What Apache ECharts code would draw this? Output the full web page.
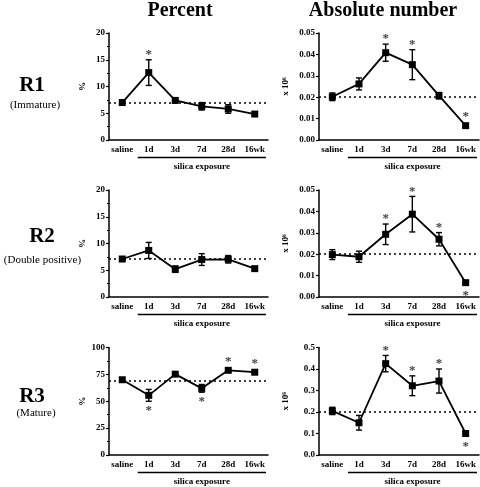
<!DOCTYPE html>
<html><head><meta charset="utf-8">
<script src="https://cdn.jsdelivr.net/npm/echarts@6/dist/echarts.min.js"></script>
<style>html,body{margin:0;padding:0;background:#fff}#c{width:480px;height:487px}</style>
</head><body><div id="c"></div>
<script>
// ---- data ----
var categories = ['saline','1d','3d','7d','28d','16wk'];

var r1Pct     = [7.0, 12.6, 7.4, 6.3, 5.8, 4.85];
var r1PctErr  = [0.2, 2.4, 0.4, 0.7, 0.8, 0.25];
var r1PctStar = [0, 1, 0, 0, 0, 0];
var r1PctBase = 7.0;

var r1Abs     = [0.0202, 0.0262, 0.0408, 0.0352, 0.0207, 0.0067];
var r1AbsErr  = [0.0018, 0.0028, 0.0040, 0.0070, 0.0015, 0.0007];
var r1AbsStar = [0, 0, 1, 1, 0, 1];
var r1AbsBase = 0.0202;

var r2Pct     = [7.1, 8.7, 5.2, 7.0, 7.05, 5.3];
var r2PctErr  = [0.3, 1.5, 0.6, 1.1, 0.7, 0.25];
var r2PctStar = [0, 0, 0, 0, 0, 0];
var r2PctBase = 7.1;

var r2Abs     = [0.0198, 0.0188, 0.0293, 0.0387, 0.0270, 0.0067];
var r2AbsErr  = [0.0023, 0.0026, 0.0048, 0.0083, 0.0031, 0.0005];
var r2AbsStar = [0, 0, 1, 1, 1, -1];
var r2AbsBase = 0.0195;

var r3Pct     = [70, 55.5, 75.2, 62, 78.8, 77];
var r3PctErr  = [0.8, 5.5, 0.8, 3.6, 1.2, 1.2];
var r3PctStar = [0, -1, 0, -1, 1, 1];
var r3PctBase = 69;

var r3Abs     = [0.205, 0.150, 0.425, 0.322, 0.344, 0.100];
var r3AbsErr  = [0.017, 0.034, 0.038, 0.046, 0.056, 0.010];
var r3AbsStar = [0, 0, 1, 1, 1, -1];
var r3AbsBase = 0.205;

var rowNames = ['R1','R2','R3'];
var rowSubs  = ['(Immature)','(Double positive)','(Mature)'];
var colTitles = ['Percent','Absolute number'];
var xGroupLabel = 'silica exposure';

var panels = [
  {v:r1Pct, e:r1PctErr, s:r1PctStar, b:r1PctBase, max:20,  step:5,    dec:0, minor:true,  name:'%'},
  {v:r1Abs, e:r1AbsErr, s:r1AbsStar, b:r1AbsBase, max:0.05,step:0.01, dec:2, minor:false, name:'x 10\u2076'},
  {v:r2Pct, e:r2PctErr, s:r2PctStar, b:r2PctBase, max:20,  step:5,    dec:0, minor:true,  name:'%'},
  {v:r2Abs, e:r2AbsErr, s:r2AbsStar, b:r2AbsBase, max:0.05,step:0.01, dec:2, minor:false, name:'x 10\u2076'},
  {v:r3Pct, e:r3PctErr, s:r3PctStar, b:r3PctBase, max:100, step:25,   dec:0, minor:true,  name:'%'},
  {v:r3Abs, e:r3AbsErr, s:r3AbsStar, b:r3AbsBase, max:0.5, step:0.1,  dec:1, minor:false, name:'x 10\u2076'}
];

// ---- layout ----
var FONT = '"Liberation Serif", "DejaVu Serif", serif';
var colLeft = [109, 319], colWidth = [159, 160];
var rowTop = [33, 190, 347.5], rowHeight = [107, 107, 107.5];

var grids = [], xAxes = [], yAxes = [], series = [], graphics = [];

panels.forEach(function(p, k){
  var r = Math.floor(k/2), c = k%2;
  grids.push({left: colLeft[c], top: rowTop[r], width: colWidth[c], height: rowHeight[r]});
  xAxes.push({
    type:'category', gridIndex:k, data:categories, boundaryGap:true,
    axisLine:{lineStyle:{color:'#000', width:1.5}},
    axisTick:{alignWithLabel:true, interval:0, length:4, lineStyle:{color:'#000', width:1.2}},
    axisLabel:{color:'#000', fontFamily:FONT, fontWeight:'bold', fontSize:9, margin:5, interval:0, hideOverlap:false},
    splitLine:{show:false}
  });
  yAxes.push({
    type:'value', gridIndex:k, min:0, max:p.max, interval:p.step,
    name:p.name, nameLocation:'middle', nameRotate:90, nameGap: c===0 ? 22 : 29,
    nameTextStyle:{color:'#000', fontFamily:FONT, fontWeight:'bold', fontSize:9},
    axisLine:{show:true, lineStyle:{color:'#000', width:1.5}},
    axisTick:{show:true, length:3, lineStyle:{color:'#000', width:1.2}},
    minorTick:{show:p.minor, splitNumber:2, length:2, lineStyle:{color:'#000', width:1}},
    axisLabel:{color:'#000', fontFamily:FONT, fontWeight:'bold', fontSize:9, margin:4,
      formatter:(function(d){return function(v){return v.toFixed(d);};})(p.dec)},
    splitLine:{show:false}
  });
  series.push({
    type:'line', xAxisIndex:k, yAxisIndex:k, data:p.v,
    symbol:'rect', symbolSize:7, z:5,
    lineStyle:{color:'#000', width:1.8}, itemStyle:{color:'#000'},
    markLine:{silent:true, symbol:'none', label:{show:false},
      lineStyle:{color:'#000', type:[2,3], width:1.5},
      data:[{yAxis:p.b}]}
  });
  var errData = p.v.map(function(v,i){return [i, v, p.e[i], p.s[i]];});
  series.push({
    type:'custom', xAxisIndex:k, yAxisIndex:k, data:errData, z:4,
    renderItem:function(params, api){
      var i = api.value(0), v = api.value(1), e = api.value(2), s = api.value(3);
      var top = api.coord([i, v+e]), bot = api.coord([i, v-e]);
      var x = top[0], cw = 3;
      var st = {stroke:'#000', lineWidth:1.4};
      var ch = [
        {type:'line', shape:{x1:x,y1:top[1],x2:x,y2:bot[1]}, style:st},
        {type:'line', shape:{x1:x-cw,y1:top[1],x2:x+cw,y2:top[1]}, style:st},
        {type:'line', shape:{x1:x-cw,y1:bot[1],x2:x+cw,y2:bot[1]}, style:st}
      ];
      if (s !== 0) {
        var ref = s > 0 ? Math.min(top[1], api.coord([i,v])[1]-4) : Math.max(bot[1], api.coord([i,v])[1]+4);
        ch.push({type:'text', x:x, y: s>0 ? ref-5 : ref+9,
          style:{text:'*', fill:'#444', font:'bold 13px '+FONT, align:'center', verticalAlign:'middle'}});
      }
      return {type:'group', children:ch};
    }
  });
  // group underline + label
  var axisY = rowTop[r] + rowHeight[r];
  var step = colWidth[c]/categories.length;
  var x1 = colLeft[c] + step*1.5 - 11, x2 = colLeft[c] + colWidth[c] - 2;
  graphics.push({type:'line', shape:{x1:x1, y1:axisY+17.5, x2:x2, y2:axisY+17.5}, style:{stroke:'#000', lineWidth:1.5}});
  graphics.push({type:'text', x:(x1+x2)/2, y:axisY+27,
    style:{text:xGroupLabel, fill:'#000', font:'bold 9px '+FONT, align:'center', verticalAlign:'middle'}});
});

// row labels
var rowLabelX = [32, 42, 32], rowLabelY = [86, 237, 397];
var rowSubX = [35, 42.5, 36], rowSubY = [105, 260, 413];
rowNames.forEach(function(n, r){
  graphics.push({type:'text', x:rowLabelX[r], y:rowLabelY[r],
    style:{text:n, fill:'#000', font:'bold 21px '+FONT, align:'center', verticalAlign:'middle'}});
  graphics.push({type:'text', x:rowSubX[r], y:rowSubY[r],
    style:{text:rowSubs[r], fill:'#000', font:'11px '+FONT, align:'center', verticalAlign:'middle'}});
});
// column titles
var colTitleX = [180, 383];
colTitles.forEach(function(t, c){
  graphics.push({type:'text', x:colTitleX[c], y:11,
    style:{text:t, fill:'#000', font:'bold 20px '+FONT, align:'center', verticalAlign:'middle'}});
});

var chart = echarts.init(document.getElementById('c'), null, {renderer:'canvas'});
chart.setOption({
  animation:false,
  backgroundColor:'#fff',
  grid:grids, xAxis:xAxes, yAxis:yAxes, series:series,
  graphic:graphics
});
</script>
</body></html>
